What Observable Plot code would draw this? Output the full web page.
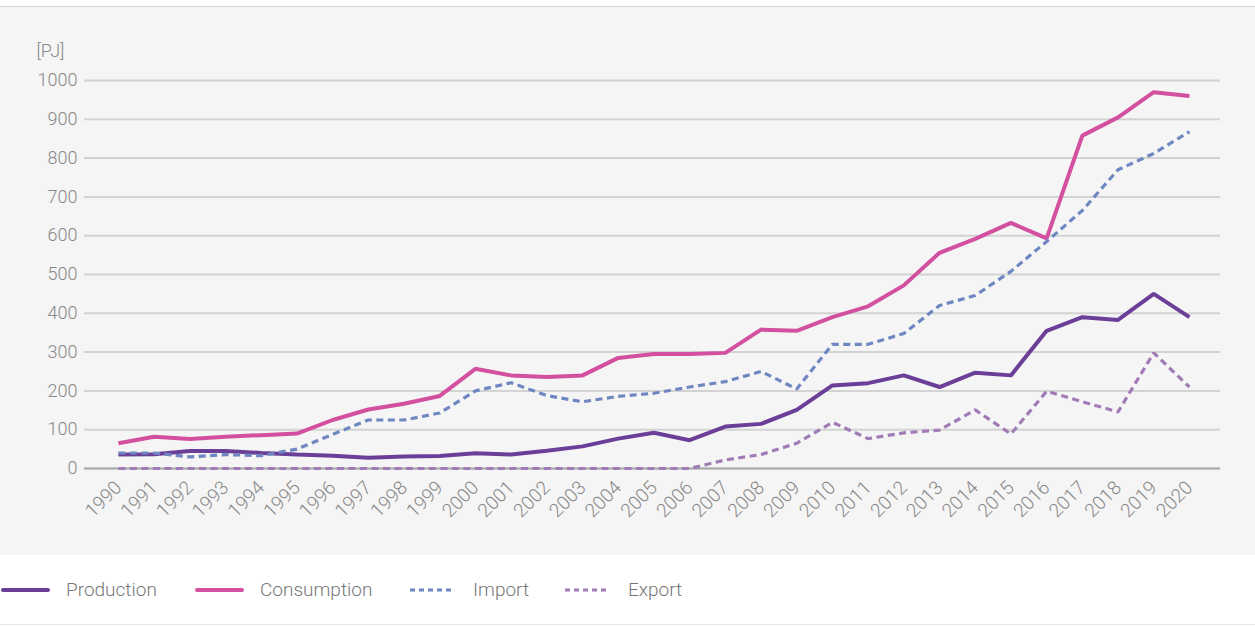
<!DOCTYPE html>
<html><head><meta charset="utf-8">
<script src="https://cdn.jsdelivr.net/npm/d3@7"></script>
<script src="https://cdn.jsdelivr.net/npm/@observablehq/plot@0.6"></script>
<style>
body{margin:0;background:#fff;font-family:Roboto,sans-serif;}
#wrap{width:1255px;}
#top{height:6px;border-bottom:1px solid #d4d4d4;}
#panel{background:#f5f5f5;height:548px;overflow:hidden;}
#legend{height:69px;border-bottom:1px solid #e6e6e6;position:relative;}
.item{position:absolute;top:0;height:69px;display:flex;align-items:center;color:#777;font-size:19px;font-weight:300;}
.item svg{margin-right:16px;}
</style></head>
<body>
<div id="wrap"><div id="top"></div><div id="panel"></div><div id="legend"></div></div>
<script>
const years = d3.range(1990, 2021);
const yTicks = [0,100,200,300,400,500,600,700,800,900,1000];
const seriesNames = ["Production","Consumption","Import","Export"];
const production  = [36,37,45,45,40,36,33,28,31,32,39,36,46,57,77,92,73,108,115,151,214,220,240,210,247,240,355,390,383,450,390];
const consumption = [65,82,76,82,86,90,125,152,167,187,257,240,236,240,285,295,295,298,358,355,390,418,472,556,592,633,593,858,905,970,960];
const importV     = [40,40,30,36,33,50,88,125,125,143,200,221,188,172,186,194,210,224,250,205,320,320,348,420,446,508,585,665,770,812,868];
const exportV     = [0,0,0,0,0,0,0,0,0,0,0,0,0,0,0,0,0,22,36,65,119,77,92,99,151,89,199,172,146,298,210];
const colors = ["#6b3f98","#d2509f","#6f87c1","#a17bb6"];
const dashes = [null,null,"7,4.5","7,4.5"];
const widths = [4,4,3.2,3.2];
const valuesList = [production, consumption, importV, exportV];

const series = seriesNames.map((name,k)=>({name, color:colors[k], dash:dashes[k], width:widths[k],
  data: years.map((y,i)=>({year:y, value:valuesList[k][i]}))}));

const chart = Plot.plot({
  width:1255, height:548,
  marginLeft:84, marginRight:35, marginTop:73, marginBottom:87,
  style:{background:"transparent", fontFamily:"Roboto, sans-serif", fontSize:"18px", fontWeight:300, color:"#8a8a8a", overflow:"visible"},
  x:{type:"linear", domain:[1989.05, 2020.87]},
  y:{domain:[0,1000]},
  marks:[
    Plot.gridY({ticks:yTicks, stroke:"#d3d3d3", strokeOpacity:1, strokeWidth:2}),
    Plot.ruleY([0], {stroke:"#a9a9a9", strokeWidth:2}),
    Plot.axisY({ticks:yTicks, tickFormat:d=>String(d), tickSize:0, tickPadding:7, label:null, fill:"#888"}),
    Plot.axisX({ticks:years, tickFormat:d=>String(d), tickRotate:-45, tickSize:0, tickPadding:16, label:null, fill:"#888", fontSize:19}),
    Plot.text(["[PJ]"], {frameAnchor:"top-left", dx:-48, dy:-36, textAnchor:"start", fill:"#888"}),
    ...series.map(s => Plot.line(s.data, {x:"year", y:"value", stroke:s.color, strokeWidth:s.width, strokeDasharray:s.dash, strokeLinejoin:"miter", strokeLinecap:"butt"}))
  ]
});
document.getElementById("panel").appendChild(chart);

const legendX = [0,194,407,562];
const legend = document.getElementById("legend");
series.forEach((s,k)=>{
  const div = document.createElement("div");
  div.className = "item";
  div.style.left = legendX[k] + "px";
  const ns = "http://www.w3.org/2000/svg";
  const svg = document.createElementNS(ns,"svg");
  svg.setAttribute("width",50); svg.setAttribute("height",10);
  const ln = document.createElementNS(ns,"line");
  ln.setAttribute("x1",3); ln.setAttribute("x2",48); ln.setAttribute("y1",5); ln.setAttribute("y2",5);
  ln.setAttribute("stroke",s.color); ln.setAttribute("stroke-width", s.dash ? 3 : 4);
  ln.setAttribute("stroke-linecap","round");
  if (s.dash) { ln.setAttribute("stroke-dasharray","5,4"); ln.setAttribute("stroke-linecap","butt"); }
  svg.appendChild(ln);
  div.appendChild(svg);
  const t = document.createElement("span"); t.textContent = s.name;
  div.appendChild(t);
  legend.appendChild(div);
});
</script>
</body></html>
